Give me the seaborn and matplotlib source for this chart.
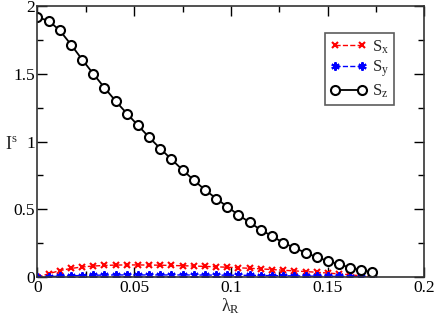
import numpy as np
import pandas as pd
import matplotlib
matplotlib.use("Agg")
import matplotlib.pyplot as plt
from matplotlib.ticker import AutoMinorLocator
import seaborn as sns

# lambda_R values (31 points, 0 .. 0.1732)
lam = [0.0, 0.0058, 0.0115, 0.0173, 0.0231, 0.0289, 0.0346, 0.0404, 0.0462, 0.0520,
       0.0577, 0.0635, 0.0693, 0.0751, 0.0808, 0.0866, 0.0924, 0.0982, 0.1039, 0.1097,
       0.1155, 0.1212, 0.1270, 0.1328, 0.1386, 0.1443, 0.1501, 0.1559, 0.1617, 0.1674,
       0.1732]

s_x = [0.0, 0.025, 0.048, 0.064, 0.075, 0.082, 0.086, 0.089, 0.090, 0.090,
       0.089, 0.088, 0.086, 0.084, 0.082, 0.079, 0.076, 0.073, 0.069, 0.065,
       0.061, 0.056, 0.051, 0.046, 0.041, 0.036, 0.030, 0.024, 0.017, 0.010,
       0.003]

s_y = [0.0, 0.004, 0.007, 0.010, 0.012, 0.014, 0.015, 0.016, 0.016, 0.016,
       0.016, 0.016, 0.016, 0.016, 0.016, 0.015, 0.015, 0.014, 0.014, 0.013,
       0.012, 0.011, 0.010, 0.009, 0.008, 0.007, 0.006, 0.005, 0.004, 0.003,
       0.002]

s_z = [1.916, 1.891, 1.820, 1.716, 1.605, 1.499, 1.398, 1.299, 1.207, 1.119,
       1.032, 0.948, 0.869, 0.790, 0.716, 0.644, 0.580, 0.519, 0.459, 0.404,
       0.348, 0.304, 0.254, 0.217, 0.180, 0.148, 0.119, 0.094, 0.071, 0.050,
       0.037]

x_ticks = [0, 0.05, 0.1, 0.15, 0.2]
x_labels = ["0", "0.05", "0.1", "0.15", "0.2"]
y_ticks = [0, 0.5, 1, 1.5, 2]
y_labels = ["0", "0.5", "1", "1.5", "2"]

df = pd.DataFrame({"lam": lam, "Sx": s_x, "Sy": s_y, "Sz": s_z})

sns.set_style("ticks")
plt.rcParams["font.family"] = ["Liberation Serif", "DejaVu Serif"]
plt.rcParams["mathtext.fontset"] = "custom"
plt.rcParams["mathtext.rm"] = "Liberation Serif"
plt.rcParams["mathtext.it"] = "Liberation Serif"

fig = plt.figure(figsize=(4.36, 3.16), dpi=100)
ax = fig.add_axes([0.086, 0.123, 0.887, 0.858])

sns.lineplot(data=df, x="lam", y="Sx", ax=ax, color="red", linestyle="--",
             linewidth=1.0, marker="x", markersize=5, markeredgecolor="red",
             markeredgewidth=1.5, label=r"S$_\mathrm{x}$")
sns.lineplot(data=df, x="lam", y="Sy", ax=ax, color="blue", linestyle="--",
             linewidth=1.0, marker=(6, 2, 0), markersize=6, markeredgecolor="blue",
             markeredgewidth=1.5, label=r"S$_\mathrm{y}$")
sns.lineplot(data=df, x="lam", y="Sz", ax=ax, color="black", linestyle="-",
             linewidth=1.3, marker="o", markersize=6.5, markerfacecolor="white",
             markeredgecolor="black", markeredgewidth=1.5, label=r"S$_\mathrm{z}$")

ax.set_xlim(0, 0.2)
ax.set_ylim(0, 2)
ax.set_xticks(x_ticks)
ax.set_xticklabels(x_labels)
ax.set_yticks(y_ticks)
ax.set_yticklabels(y_labels)
ax.xaxis.set_minor_locator(AutoMinorLocator(2))
ax.yaxis.set_minor_locator(AutoMinorLocator(2))
ax.tick_params(which="both", direction="in", top=True, right=True,
               labelsize=12.5, width=1.0, colors="black", pad=2)
ax.tick_params(which="major", length=7)
ax.tick_params(which="minor", length=4)
for sp in ax.spines.values():
    sp.set_visible(True)
    sp.set_linewidth(1.2)
    sp.set_color("#333333")

ax.set_xlabel(r"$\lambda_\mathrm{R}$", fontsize=13, va="top")
ax.xaxis.set_label_coords(0.5, -0.072)
ax.set_ylabel(r"I$^\mathrm{s}$", fontsize=13, rotation=0, ha="center", va="center")
ax.yaxis.set_label_coords(-0.068, 0.49)

leg = ax.legend(loc="upper right", bbox_to_anchor=(0.922, 0.9), numpoints=2,
                fontsize=12, frameon=True, fancybox=False, handlelength=2.2,
                borderpad=0.3, labelspacing=0.2, handletextpad=0.3,
                borderaxespad=0)
leg.get_frame().set_edgecolor("#333333")
leg.get_frame().set_linewidth(1.2)

fig.savefig("out.png", dpi=100)
